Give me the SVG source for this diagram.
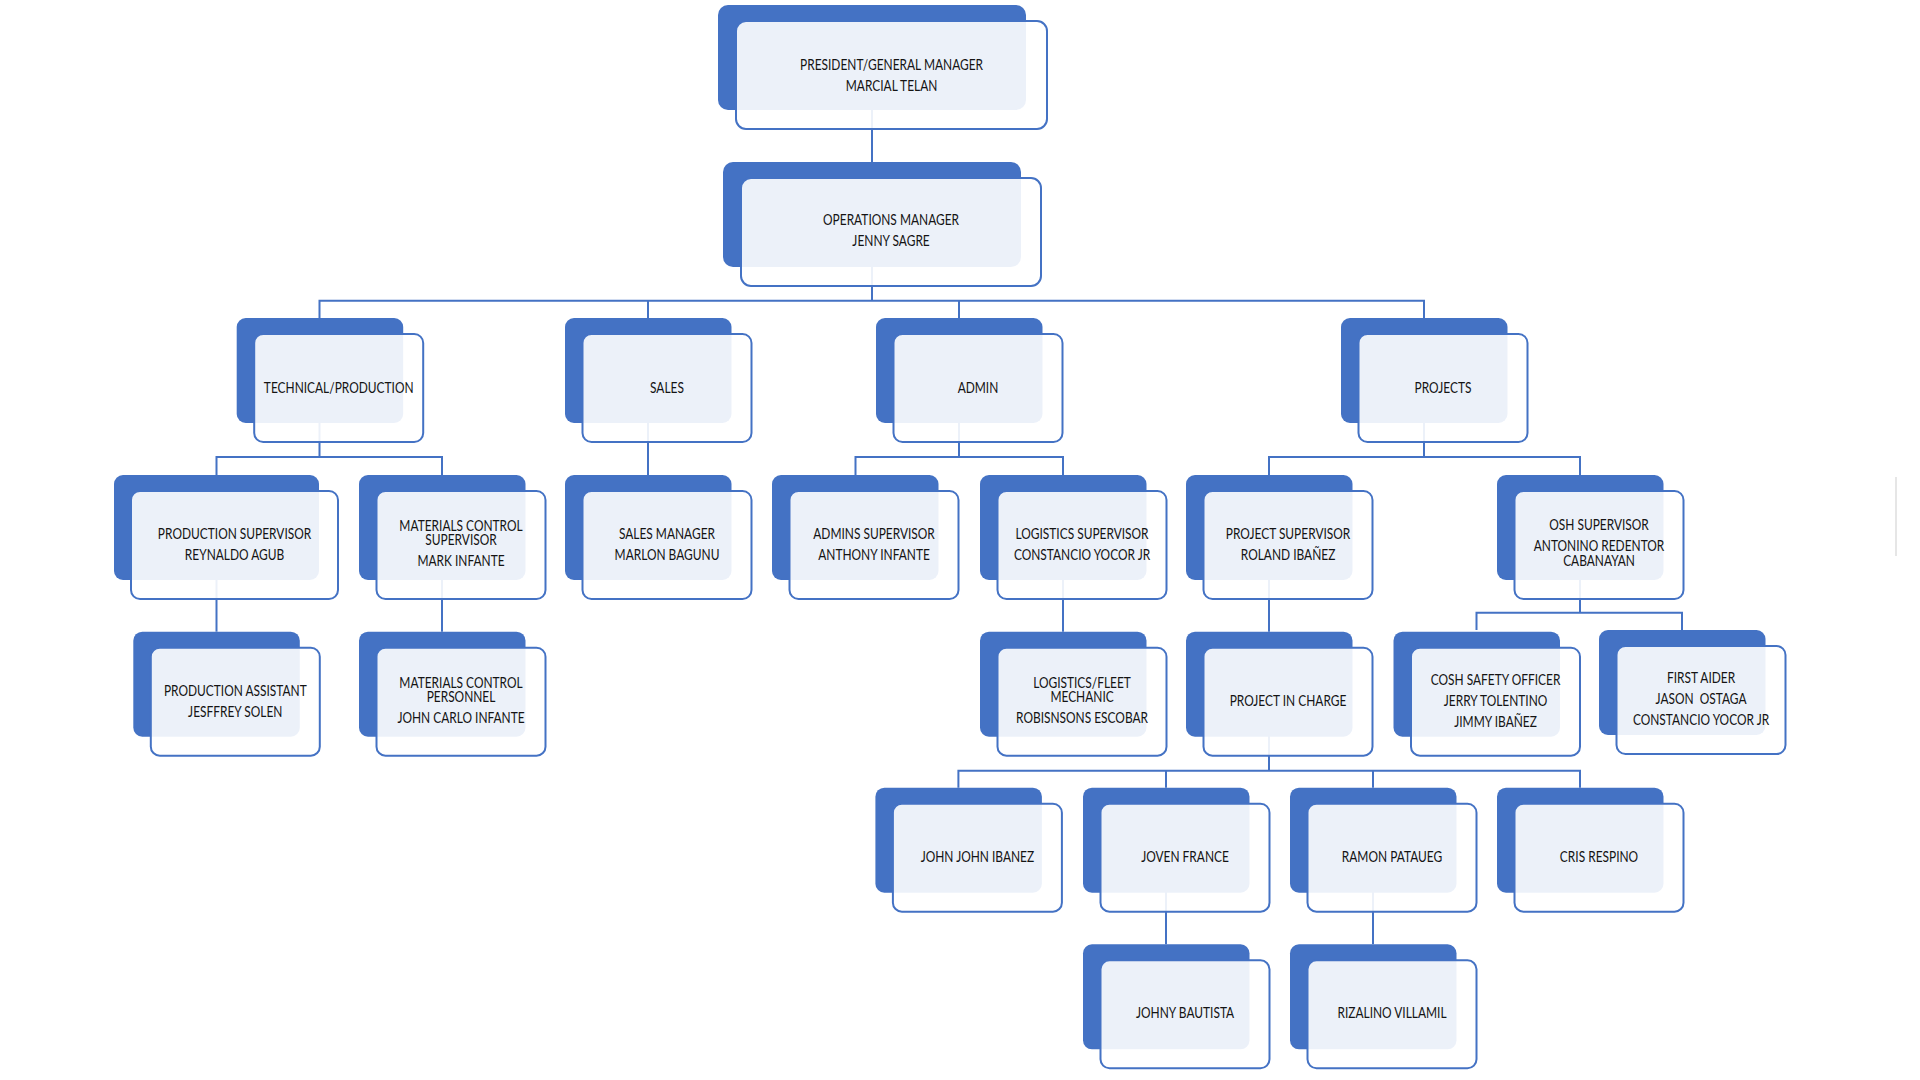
<svg xmlns="http://www.w3.org/2000/svg" width="1920" height="1080" viewBox="0 0 1920 1080">
<style>
.bk{fill:#4472C4;}
.fr{fill:#ffffff;fill-opacity:0.9;stroke:#4472C4;stroke-width:2;}
.t{font-family:Lato,"Liberation Sans",sans-serif;font-size:15px;fill:#141414;text-anchor:middle;transform-box:fill-box;transform-origin:center;transform:scaleX(0.795);}
.c{stroke:#4472C4;stroke-width:2;fill:none;}
</style>
<rect width="1920" height="1080" fill="#ffffff"/>
<line x1="1896" y1="477" x2="1896" y2="556" stroke="#e6e6e6" stroke-width="2"/>
<g id="connectors">
<path class="c" d="M872 110V162"/>
<path class="c" d="M872 267V300.7M319.5 318V300.7H1424V318M648 300.7V318M959 300.7V318"/>
<path class="c" d="M319.5 423V457M216.5 475V457H442V475"/>
<path class="c" d="M216.5 579V631.7"/>
<path class="c" d="M442 579V631.7"/>
<path class="c" d="M648 423V475"/>
<path class="c" d="M959 423V457M855.5 475V457H1063V475"/>
<path class="c" d="M1063 579V631.7"/>
<path class="c" d="M1424 423V457M1269 475V457H1580V475"/>
<path class="c" d="M1269 579V631.7"/>
<path class="c" d="M1580 579V612.7M1476.5 630V612.7H1682V630"/>
<path class="c" d="M1269 735.7V770.7M958.4 787.7V770.7H1580V787.7M1166 770.7V787.7M1373 770.7V787.7"/>
<path class="c" d="M1166 892V944.3"/>
<path class="c" d="M1373 892V944.3"/>
</g>
<g id="president" transform="translate(718,5)">
<rect class="bk" x="0" y="0" width="308" height="105" rx="10"/>
<rect class="fr" x="18" y="16" width="311" height="108" rx="10"/>
<text class="t"><tspan x="173.5" y="65">PRESIDENT/GENERAL MANAGER</tspan><tspan x="173.5" y="86">MARCIAL TELAN</tspan></text>
</g>
<g id="operations-manager" transform="translate(723,162)">
<rect class="bk" x="0" y="0" width="298" height="105" rx="10"/>
<rect class="fr" x="18" y="16" width="300" height="108" rx="10"/>
<text class="t"><tspan x="168" y="63">OPERATIONS MANAGER</tspan><tspan x="168" y="84">JENNY SAGRE</tspan></text>
</g>
<g id="technical-production" transform="translate(236.7,318)">
<rect class="bk" x="0" y="0" width="166.5" height="105" rx="9"/>
<rect class="fr" x="17.5" y="16" width="169" height="108" rx="9"/>
<text class="t" x="102" y="75">TECHNICAL/PRODUCTION</text>
</g>
<g id="sales" transform="translate(565,318)">
<rect class="bk" x="0" y="0" width="166.5" height="105" rx="9"/>
<rect class="fr" x="17.5" y="16" width="169" height="108" rx="9"/>
<text class="t" x="102" y="75">SALES</text>
</g>
<g id="admin" transform="translate(876,318)">
<rect class="bk" x="0" y="0" width="166.5" height="105" rx="9"/>
<rect class="fr" x="17.5" y="16" width="169" height="108" rx="9"/>
<text class="t" x="102" y="75">ADMIN</text>
</g>
<g id="projects" transform="translate(1341,318)">
<rect class="bk" x="0" y="0" width="166.5" height="105" rx="9"/>
<rect class="fr" x="17.5" y="16" width="169" height="108" rx="9"/>
<text class="t" x="102" y="75">PROJECTS</text>
</g>
<g id="production-supervisor" transform="translate(114,475)">
<rect class="bk" x="0" y="0" width="205" height="105" rx="9"/>
<rect class="fr" x="17" y="16" width="207" height="108" rx="9"/>
<text class="t"><tspan x="120.5" y="64.5">PRODUCTION SUPERVISOR</tspan><tspan x="120.5" y="85.5">REYNALDO AGUB</tspan></text>
</g>
<g id="materials-control-supervisor" transform="translate(359,475)">
<rect class="bk" x="0" y="0" width="166.5" height="105" rx="9"/>
<rect class="fr" x="17.5" y="16" width="169" height="108" rx="9"/>
<text class="t"><tspan x="102" y="56">MATERIALS CONTROL</tspan><tspan x="102" y="70.5">SUPERVISOR</tspan><tspan x="102" y="91.5">MARK INFANTE</tspan></text>
</g>
<g id="sales-manager" transform="translate(565,475)">
<rect class="bk" x="0" y="0" width="166.5" height="105" rx="9"/>
<rect class="fr" x="17.5" y="16" width="169" height="108" rx="9"/>
<text class="t"><tspan x="102" y="64.5">SALES MANAGER</tspan><tspan x="102" y="85.5">MARLON BAGUNU</tspan></text>
</g>
<g id="admins-supervisor" transform="translate(772,475)">
<rect class="bk" x="0" y="0" width="166.5" height="105" rx="9"/>
<rect class="fr" x="17.5" y="16" width="169" height="108" rx="9"/>
<text class="t"><tspan x="102" y="64.5">ADMINS SUPERVISOR</tspan><tspan x="102" y="85.5">ANTHONY INFANTE</tspan></text>
</g>
<g id="logistics-supervisor" transform="translate(980,475)">
<rect class="bk" x="0" y="0" width="166.5" height="105" rx="9"/>
<rect class="fr" x="17.5" y="16" width="169" height="108" rx="9"/>
<text class="t"><tspan x="102" y="64.5">LOGISTICS SUPERVISOR</tspan><tspan x="102" y="85.5">CONSTANCIO YOCOR JR</tspan></text>
</g>
<g id="project-supervisor" transform="translate(1186,475)">
<rect class="bk" x="0" y="0" width="166.5" height="105" rx="9"/>
<rect class="fr" x="17.5" y="16" width="169" height="108" rx="9"/>
<text class="t"><tspan x="102" y="64.5">PROJECT SUPERVISOR</tspan><tspan x="102" y="85.5">ROLAND IBAÑEZ</tspan></text>
</g>
<g id="osh-supervisor" transform="translate(1497,475)">
<rect class="bk" x="0" y="0" width="166.5" height="105" rx="9"/>
<rect class="fr" x="17.5" y="16" width="169" height="108" rx="9"/>
<text class="t"><tspan x="102" y="55.5">OSH SUPERVISOR</tspan><tspan x="102" y="76.5">ANTONINO REDENTOR</tspan><tspan x="102" y="90.8">CABANAYAN</tspan></text>
</g>
<g id="production-assistant" transform="translate(133.3,631.7)">
<rect class="bk" x="0" y="0" width="166.5" height="105" rx="9"/>
<rect class="fr" x="17.5" y="16" width="169" height="108" rx="9"/>
<text class="t"><tspan x="102" y="64.5">PRODUCTION ASSISTANT</tspan><tspan x="102" y="85.5">JESFFREY SOLEN</tspan></text>
</g>
<g id="materials-control-personnel" transform="translate(359,631.7)">
<rect class="bk" x="0" y="0" width="166.5" height="105" rx="9"/>
<rect class="fr" x="17.5" y="16" width="169" height="108" rx="9"/>
<text class="t"><tspan x="102" y="56">MATERIALS CONTROL</tspan><tspan x="102" y="70.5">PERSONNEL</tspan><tspan x="102" y="91.5">JOHN CARLO INFANTE</tspan></text>
</g>
<g id="logistics-fleet-mechanic" transform="translate(980,631.7)">
<rect class="bk" x="0" y="0" width="166.5" height="105" rx="9"/>
<rect class="fr" x="17.5" y="16" width="169" height="108" rx="9"/>
<text class="t"><tspan x="102" y="56">LOGISTICS/FLEET</tspan><tspan x="102" y="70.5">MECHANIC</tspan><tspan x="102" y="91.5">ROBISNSONS ESCOBAR</tspan></text>
</g>
<g id="project-in-charge" transform="translate(1186,631.7)">
<rect class="bk" x="0" y="0" width="166.5" height="105" rx="9"/>
<rect class="fr" x="17.5" y="16" width="169" height="108" rx="9"/>
<text class="t" x="102" y="74.5">PROJECT IN CHARGE</text>
</g>
<g id="cosh-safety-officer" transform="translate(1393.5,631.7)">
<rect class="bk" x="0" y="0" width="166.5" height="105" rx="9"/>
<rect class="fr" x="17.5" y="16" width="169" height="108" rx="9"/>
<text class="t"><tspan x="102" y="53.5">COSH SAFETY OFFICER</tspan><tspan x="102" y="74.5">JERRY TOLENTINO</tspan><tspan x="102" y="95.5">JIMMY IBAÑEZ</tspan></text>
</g>
<g id="first-aider" transform="translate(1599,630)">
<rect class="bk" x="0" y="0" width="166.5" height="105" rx="9"/>
<rect class="fr" x="17.5" y="16" width="169" height="108" rx="9"/>
<text class="t" xml:space="preserve"><tspan x="102" y="53">FIRST AIDER</tspan><tspan x="102" y="74">JASON  OSTAGA</tspan><tspan x="102" y="95">CONSTANCIO YOCOR JR</tspan></text>
</g>
<g id="john-john-ibanez" transform="translate(875.4,787.7)">
<rect class="bk" x="0" y="0" width="166.5" height="105" rx="9"/>
<rect class="fr" x="17.5" y="16" width="169" height="108" rx="9"/>
<text class="t" x="102" y="74">JOHN JOHN IBANEZ</text>
</g>
<g id="joven-france" transform="translate(1083,787.7)">
<rect class="bk" x="0" y="0" width="166.5" height="105" rx="9"/>
<rect class="fr" x="17.5" y="16" width="169" height="108" rx="9"/>
<text class="t" x="102" y="74">JOVEN FRANCE</text>
</g>
<g id="ramon-pataueg" transform="translate(1290,787.7)">
<rect class="bk" x="0" y="0" width="166.5" height="105" rx="9"/>
<rect class="fr" x="17.5" y="16" width="169" height="108" rx="9"/>
<text class="t" x="102" y="74">RAMON PATAUEG</text>
</g>
<g id="cris-respino" transform="translate(1497,787.7)">
<rect class="bk" x="0" y="0" width="166.5" height="105" rx="9"/>
<rect class="fr" x="17.5" y="16" width="169" height="108" rx="9"/>
<text class="t" x="102" y="74">CRIS RESPINO</text>
</g>
<g id="johny-bautista" transform="translate(1083,944.3)">
<rect class="bk" x="0" y="0" width="166.5" height="105" rx="9"/>
<rect class="fr" x="17.5" y="16" width="169" height="108" rx="9"/>
<text class="t" x="102" y="74">JOHNY BAUTISTA</text>
</g>
<g id="rizalino-villamil" transform="translate(1290,944.3)">
<rect class="bk" x="0" y="0" width="166.5" height="105" rx="9"/>
<rect class="fr" x="17.5" y="16" width="169" height="108" rx="9"/>
<text class="t" x="102" y="74">RIZALINO VILLAMIL</text>
</g>
</svg>
